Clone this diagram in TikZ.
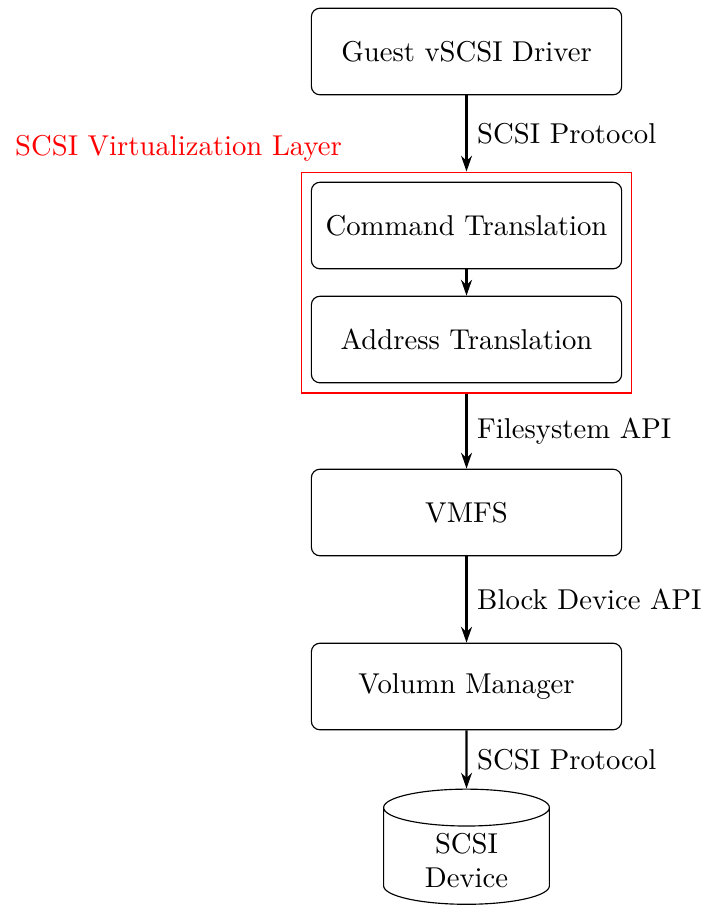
\documentclass[tikz,border=0pt]{standalone}
\usepackage{tikz}
\usetikzlibrary{shapes.geometric,arrows.meta,positioning,fit}

\begin{document}
\begin{tikzpicture}[
  box/.style={rectangle, rounded corners=3pt, draw=black,
              minimum width=3.8cm, minimum height=1.06cm, align=center},
  disk/.style={cylinder, shape border rotate=90, aspect=0.36, draw=black,
               inner ysep=1pt, minimum width=2.03cm, minimum height=1.41cm,
               align=center},
  layer/.style={rectangle, draw=red},
  arrow/.style={-{Stealth[length=5.5pt,width=3.8pt]}, thick},
  lbl/.style={right, midway}
]
\useasboundingbox (-5.713,0.631) rectangle (2.933,-10.464);
\node[box] (guest) at (0,0)      {Guest vSCSI Driver};
\node[box] (cmd)   at (0,-2.131) {Command Translation};
\node[box] (addr)  at (0,-3.527) {Address Translation};
\node[layer, fit=(cmd)(addr)] (virt) {};
\node[box] (vmfs)  at (0,-5.645) {VMFS};
\node[box] (vol)   at (0,-7.776) {Volumn Manager};
\node[disk] (dev)  at (0,-9.907) {SCSI\\Device};
\node[red] (virtlbl) at (-3.527,-1.19) {SCSI Virtualization Layer};
\draw[arrow](guest)--(virt) node[lbl]{SCSI Protocol};
\draw[arrow](cmd)--(addr);
\draw[arrow](virt)--(vmfs) node[lbl]{Filesystem API};
\draw[arrow](vmfs)--(vol) node[lbl]{Block Device API};
\draw[arrow](vol)--(dev) node[lbl]{SCSI Protocol};
\end{tikzpicture}
\end{document}
